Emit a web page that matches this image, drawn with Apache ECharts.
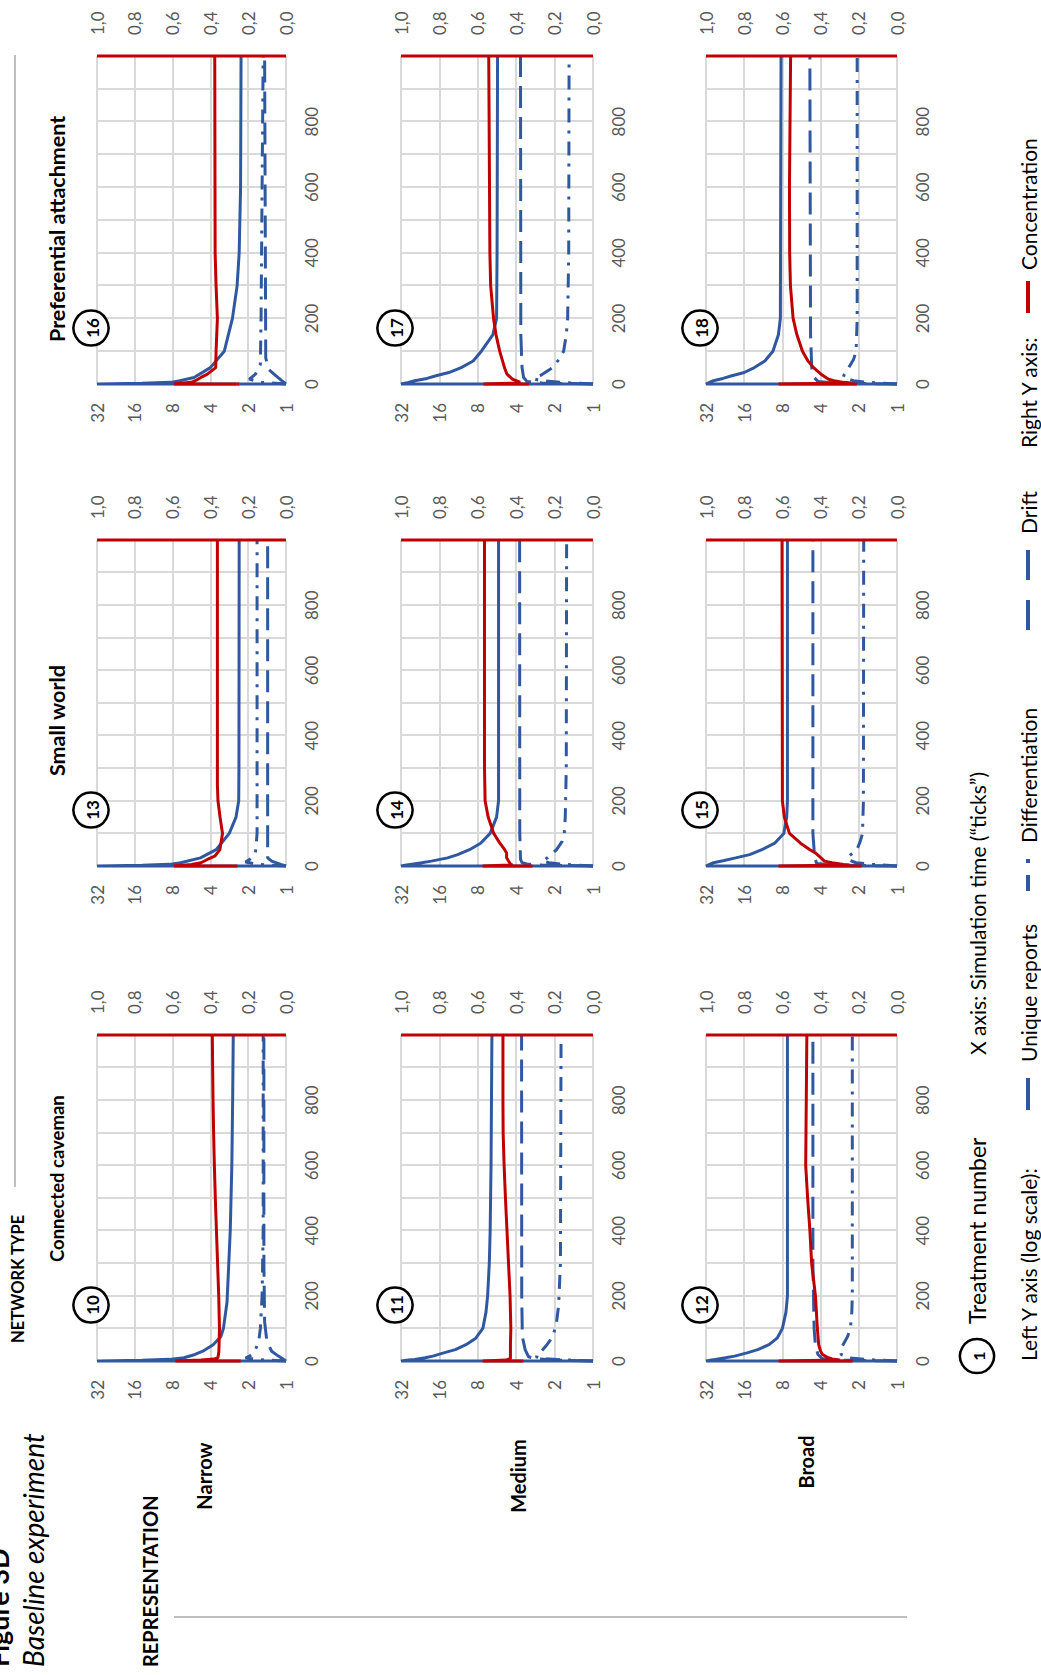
<!DOCTYPE html>
<html><head><meta charset="utf-8">
<script src="https://cdn.jsdelivr.net/npm/echarts@6.0.0/dist/echarts.min.js"></script>
<style>
html,body{margin:0;padding:0;background:#fff;width:1041px;height:1675px;overflow:hidden;}
#c{position:absolute;left:0;top:0;width:1675px;height:1041px;transform-origin:0 0;transform:translate(0,1675px) rotate(-90deg);}
</style></head><body><div id="c"></div>
<script>
// ---------------- DATA ----------------
const NETWORKS = ['Connected caveman', 'Small world', 'Preferential attachment'];
const REPRESENTATIONS = ['Narrow', 'Medium', 'Broad'];
const TREATMENTS = [[10, 13, 16], [11, 14, 17], [12, 15, 18]]; // [row][col]
const X_LABELS = [0, 200, 400, 600, 800];
const LEFT_TICKS = [1, 2, 4, 8, 16, 32];
const RIGHT_TICKS = [0, 0.2, 0.4, 0.6, 0.8, 1.0];

// Treatment 10 – Connected caveman / Narrow
const uniq10 = [[0,1],[0,32],[2,14],[5,8.5],[10,6.5],[20,5.3],[30,4.6],[50,3.8],[75,3.3],[100,3.15],[180,2.95],[280,2.87],[400,2.78],[600,2.7],[800,2.66],[1000,2.63]];
const diff10 = [[0,1],[4,1.6],[9,2.1],[15,1.95],[25,1.8],[35,1.75],[60,1.65],[100,1.6],[200,1.55],[400,1.52],[1000,1.52]];
const drift10 = [[0,1],[5,1.05],[15,1.15],[30,1.3],[60,1.42],[120,1.48],[300,1.5],[1000,1.5]];
const conc10 = [[0,0.24],[0,0.585],[3,0.45],[6,0.38],[10,0.36],[30,0.355],[100,0.352],[200,0.356],[300,0.362],[400,0.368],[500,0.374],[600,0.379],[700,0.383],[800,0.386],[1000,0.39],[1000,1],[1000,0]];
// Treatment 11 – Connected caveman / Medium
const uniq11 = [[0,1],[0,32],[3,28],[5,25],[10,20.7],[15,18],[25,14.8],[35,12],[50,9.9],[70,8.3],[100,7.3],[150,6.9],[200,6.7],[300,6.5],[400,6.4],[600,6.3],[1000,6.2]];
const diff11 = [[0,1],[4,1.8],[8,2.5],[13,2.8],[25,2.6],[45,2.35],[75,2.06],[120,1.93],[170,1.86],[300,1.8],[1000,1.78]];
const drift11 = [[0,1],[3,2],[7,2.8],[13,3.2],[34,3.4],[75,3.58],[200,3.62],[1000,3.63]];
const conc11 = [[0,0.363],[0,0.575],[3,0.45],[8,0.43],[20,0.43],[50,0.43],[100,0.428],[200,0.432],[300,0.44],[400,0.448],[500,0.456],[600,0.463],[700,0.468],[800,0.469],[1000,0.469],[1000,1],[1000,0]];
// Treatment 12 – Connected caveman / Broad
const uniq12 = [[0,1],[0,32],[3,29],[5,27],[10,22.5],[15,19],[25,15.2],[35,12.5],[50,10.2],[70,8.8],[100,8.0],[150,7.5],[200,7.3],[400,7.3],[1000,7.3]];
const diff12 = [[0,1],[5,1.8],[10,2.4],[20,2.75],[30,2.8],[50,2.66],[75,2.45],[100,2.33],[150,2.27],[200,2.25],[1000,2.25]];
const drift12 = [[0,1],[3,3.0],[8,3.9],[20,4.2],[50,4.4],[100,4.5],[300,4.6],[1000,4.6]];
const conc12 = [[0,0.233],[0,0.62],[3,0.3],[6,0.34],[10,0.36],[20,0.39],[30,0.40],[50,0.41],[100,0.417],[200,0.427],[300,0.447],[400,0.456],[500,0.468],[600,0.478],[800,0.475],[1000,0.472],[1000,1],[1000,0]];
// Treatment 13 – Small world / Narrow
const uniq13 = [[0,1],[0,32],[2,14],[5,8.5],[10,6.9],[25,4.8],[50,3.6],[100,2.83],[150,2.5],[200,2.38],[300,2.37],[1000,2.36]];
const diff13 = [[0,1],[5,1.7],[12,2.1],[20,1.95],[40,1.75],[100,1.7],[1000,1.7]];
const drift13 = [[0,1],[5,1.1],[15,1.3],[25,1.4],[60,1.4],[1000,1.4]];
const conc13 = [[0,0.257],[0,0.593],[5,0.5],[10,0.45],[20,0.416],[30,0.377],[50,0.35],[100,0.336],[150,0.349],[200,0.36],[250,0.363],[1000,0.363],[1000,1],[1000,0]];
// Treatment 14 – Small world / Medium
const uniq14 = [[0,1],[0,32],[3,29],[5,27],[10,22],[15,18.5],[25,13.8],[35,11.5],[50,9.3],[70,7.6],[100,6.4],[150,5.7],[200,5.5],[400,5.5],[1000,5.5]];
const diff14 = [[0,1],[5,1.7],[10,2.2],[15,2.5],[25,2.28],[50,1.93],[75,1.75],[100,1.68],[150,1.65],[300,1.62],[1000,1.61]];
const drift14 = [[0,1],[3,2.5],[6,3.3],[10,3.6],[20,3.7],[100,3.75],[1000,3.76]];
const conc14 = [[0,0.315],[0,0.575],[3,0.42],[6,0.43],[15,0.44],[25,0.45],[40,0.45],[50,0.46],[70,0.485],[100,0.517],[150,0.546],[200,0.562],[300,0.565],[1000,0.565],[1000,1],[1000,0]];
// Treatment 15 – Small world / Broad
const uniq15 = [[0,1],[0,32],[5,30],[10,28],[17,23],[25,18.7],[35,14.5],[50,11.6],[70,9.2],[100,7.8],[150,7.4],[200,7.3],[1000,7.3]];
const diff15 = [[0,1],[5,1.6],[10,2.1],[20,2.45],[30,2.4],[50,2.07],[75,1.95],[100,1.87],[200,1.84],[1000,1.83]];
const drift15 = [[0,1],[3,3.0],[8,4.3],[20,4.4],[50,4.5],[100,4.6],[1000,4.6]];
const conc15 = [[0,0.185],[0,0.62],[3,0.25],[5,0.28],[10,0.34],[15,0.38],[25,0.398],[40,0.427],[50,0.456],[70,0.505],[100,0.563],[150,0.59],[200,0.6],[1000,0.602],[1000,1],[1000,0]];
// Treatment 16 – Preferential attachment / Narrow
const uniq16 = [[0,1],[0,32],[2,14],[5,8.3],[10,7],[20,5.4],[50,4],[100,3.1],[200,2.67],[300,2.45],[400,2.36],[600,2.3],[1000,2.28]];
const diff16 = [[0,1],[5,1.6],[15,1.96],[30,1.75],[60,1.6],[200,1.58],[1000,1.52]];
const drift16 = [[0,1],[10,1.08],[25,1.2],[45,1.38],[80,1.45],[1000,1.48]];
const conc16 = [[0,0.248],[0,0.593],[5,0.5],[10,0.48],[20,0.45],[30,0.416],[50,0.372],[100,0.37],[200,0.363],[300,0.37],[400,0.375],[1000,0.377],[1000,1],[1000,0]];
// Treatment 17 – Preferential attachment / Medium
const uniq17 = [[0,1],[0,32],[5,28],[10,25],[17,20],[25,17],[35,13.5],[50,10.8],[70,8.7],[100,7.5],[150,6.1],[200,5.7],[400,5.65],[1000,5.6]];
const diff17 = [[0,1],[5,1.8],[10,2.5],[15,2.9],[25,2.6],[50,2.07],[75,1.85],[100,1.7],[150,1.62],[200,1.58],[400,1.55],[1000,1.54]];
const drift17 = [[0,1],[3,2.5],[8,3.3],[20,3.5],[50,3.6],[150,3.68],[1000,3.7]];
const conc17 = [[0,0.333],[0,0.571],[3,0.40],[6,0.38],[15,0.42],[30,0.448],[50,0.461],[100,0.486],[150,0.505],[200,0.518],[300,0.533],[400,0.537],[1000,0.543],[1000,1],[1000,0]];
// Treatment 18 – Preferential attachment / Broad
const uniq18 = [[0,1],[0,32],[5,30],[10,28],[17,23.5],[25,20],[35,16],[50,13.3],[70,11],[100,9.5],[150,8.6],[200,8.3],[1000,8.2]];
const diff18 = [[0,1],[5,1.7],[10,2.2],[20,2.65],[30,2.6],[50,2.4],[75,2.2],[100,2.1],[200,2.06],[1000,2.06]];
const drift18 = [[0,1],[3,3.0],[8,4.2],[20,4.5],[50,4.7],[150,4.8],[1000,4.86]];
const conc18 = [[0,0.21],[0,0.62],[3,0.24],[5,0.28],[10,0.33],[15,0.36],[30,0.398],[50,0.437],[70,0.466],[100,0.495],[150,0.524],[200,0.544],[300,0.558],[400,0.562],[600,0.563],[1000,0.557],[1000,1],[1000,0]];

const PANEL_DATA = {
  10: [uniq10, diff10, drift10, conc10], 11: [uniq11, diff11, drift11, conc11], 12: [uniq12, diff12, drift12, conc12],
  13: [uniq13, diff13, drift13, conc13], 14: [uniq14, diff14, drift14, conc14], 15: [uniq15, diff15, drift15, conc15],
  16: [uniq16, diff16, drift16, conc16], 17: [uniq17, diff17, drift17, conc17], 18: [uniq18, diff18, drift18, conc18]
};

// ---------------- STYLE / LAYOUT (unrotated frame 1675 x 1041) ----------------
const BLUE = '#3058a0', RED = '#C00000', GRID = '#d9d9d9', LABEL = '#595959';
const FONT = 'Lato, "Open Sans", sans-serif';
const DASH_DIFF = [14, 8, 3, 8];
const DASH_DRIFT = [22, 9];
const COL_LEFT = [314, 809, 1291], COL_W = [326, 326, 328];
const ROW_TOP = [97, 401, 706], ROW_H = [189, 192, 191];

const grids = [], xAxes = [], yAxes = [], series = [], graphics = [];
let gi = 0;
for (let r = 0; r < 3; r++) {
  for (let c = 0; c < 3; c++) {
    const t = TREATMENTS[r][c];
    const [u, d, f, k] = PANEL_DATA[t];
    grids.push({ left: COL_LEFT[c], top: ROW_TOP[r], width: COL_W[c], height: ROW_H[r] });
    xAxes.push({
      gridIndex: gi, type: 'value', min: 0, max: 1000, interval: 100,
      axisLine: { show: false }, axisTick: { show: false },
      splitLine: { show: true, lineStyle: { color: GRID, width: 2 } },
      axisLabel: { color: LABEL, fontSize: 17, fontFamily: FONT, margin: 17,
        formatter: v => X_LABELS.indexOf(v) >= 0 ? String(v) : '' }
    });
    yAxes.push({
      gridIndex: gi, type: 'log', logBase: 2, min: LEFT_TICKS[0], max: LEFT_TICKS[LEFT_TICKS.length - 1],
      axisLine: { show: false }, axisTick: { show: false },
      splitLine: { show: true, lineStyle: { color: GRID, width: 2 } },
      axisLabel: { color: LABEL, fontSize: 17, fontFamily: FONT, margin: 19 }
    });
    yAxes.push({
      gridIndex: gi, type: 'value', position: 'right', min: 0, max: 1, interval: 0.2,
      axisLine: { show: false }, axisTick: { show: false }, splitLine: { show: false },
      axisLabel: { color: LABEL, fontSize: 17, fontFamily: FONT, margin: 21,
        formatter: v => RIGHT_TICKS.some(x => Math.abs(x - v) < 1e-9) ? v.toFixed(1).replace('.', ',') : '' }
    });
    const base = { type: 'line', xAxisIndex: gi, showSymbol: false, symbol: 'none', clip: false, silent: true, animation: false };
    series.push(Object.assign({}, base, { name: 'Unique reports', yAxisIndex: 2 * gi, data: u, lineStyle: { color: BLUE, width: 3 } }));
    series.push(Object.assign({}, base, { name: 'Differentiation', yAxisIndex: 2 * gi, data: d, lineStyle: { color: BLUE, width: 3, type: DASH_DIFF } }));
    series.push(Object.assign({}, base, { name: 'Drift', yAxisIndex: 2 * gi, data: f, lineStyle: { color: BLUE, width: 3, type: DASH_DRIFT } }));
    series.push(Object.assign({}, base, { name: 'Concentration', yAxisIndex: 2 * gi + 1, data: k, lineStyle: { color: RED, width: 3 } }));
    // treatment circle
    const cx = COL_LEFT[c] + 56, cy = ROW_TOP[r] - 6;
    graphics.push({ type: 'circle', z: 100, shape: { cx: cx, cy: cy, r: 17.5 }, style: { fill: '#fff', stroke: '#000', lineWidth: 2.5 } });
    graphics.push({ type: 'text', z: 101, x: cx, y: cy + 1, style: { text: String(t), align: 'center', verticalAlign: 'middle', fontSize: 17, fontWeight: 'bold', fontFamily: FONT, fill: '#000' } });
    gi++;
  }
}

function txt(s, x, y, size, weight, style, align) {
  graphics.push({ type: 'text', z: 100, x: x, y: y, style: { text: s, align: align || 'left', verticalAlign: 'middle',
    fontSize: size, fontWeight: weight || 'normal', fontStyle: style || 'normal', fontFamily: FONT, fill: '#000' } });
}
function seg(x1, y1, x2, y2, color, w, dash) {
  graphics.push({ type: 'line', z: 100, shape: { x1: x1, y1: y1, x2: x2, y2: y2 }, style: { stroke: color, lineWidth: w, lineDash: dash || null } });
}

// Titles
txt('Figure 3D', 8, -2, 27, 'bold');
txt('Baseline experiment', 8, 33, 28, 'normal', 'italic');
txt('REPRESENTATION', 8, 150, 20, 'bold');
seg(58, 174, 58, 907, '#7f7f7f', 1);
txt(REPRESENTATIONS[0], 199, 204, 20, 'bold', null, 'center');
txt(REPRESENTATIONS[1], 199, 518, 20, 'bold', null, 'center');
txt(REPRESENTATIONS[2], 213, 806, 20, 'bold', null, 'center');
txt('NETWORK TYPE', 332, 18, 16.5, 'bold');
seg(488, 15, 1620, 15, '#7f7f7f', 1);
txt(NETWORKS[0], 413, 57, 18.5, 'bold');
txt(NETWORKS[1], 899, 57, 21.5, 'bold');
txt(NETWORKS[2], 1333, 57, 21.5, 'bold');

// Bottom legend
graphics.push({ type: 'circle', z: 100, shape: { cx: 319, cy: 977, r: 17 }, style: { fill: '#fff', stroke: '#000', lineWidth: 2.5 } });
graphics.push({ type: 'text', z: 101, x: 319, y: 978, style: { text: '1', align: 'center', verticalAlign: 'middle', fontSize: 16, fontWeight: 'bold', fontFamily: FONT, fill: '#000' } });
txt('Treatment number', 351, 977, 23);
txt('X axis: Simulation time (\u201Cticks\u201D)', 620, 977, 21);
txt('Left Y axis (log scale):', 314, 1028, 21);
seg(565, 1028, 597, 1028, BLUE, 4);
txt('Unique reports', 613, 1028, 21);
seg(784, 1028, 821, 1028, BLUE, 4, [16, 12, 4, 12]);
txt('Differentiation', 832, 1028, 21);
seg(1045, 1028, 1125, 1028, BLUE, 4, [30, 20]);
txt('Drift', 1141, 1028, 21);
txt('Right Y axis:', 1227, 1028, 21);
seg(1362, 1028, 1394, 1028, RED, 4);
txt('Concentration', 1405, 1028, 21);

const chart = echarts.init(document.getElementById('c'), null, { renderer: 'svg', width: 1675, height: 1041 });
chart.setOption({
  animation: false,
  backgroundColor: '#fff',
  grid: grids, xAxis: xAxes, yAxis: yAxes, series: series, graphic: graphics
});
</script></body></html>
